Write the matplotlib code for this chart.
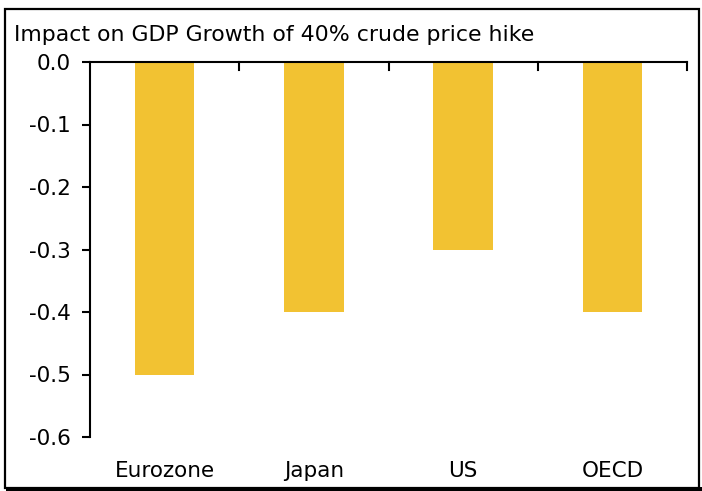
import matplotlib
matplotlib.use("Agg")
import matplotlib.pyplot as plt
from matplotlib.patches import Rectangle

categories = ["Eurozone", "Japan", "US", "OECD"]
values = [-0.5, -0.4, -0.3, -0.4]
yticks = [0.0, -0.1, -0.2, -0.3, -0.4, -0.5, -0.6]
title = "Impact on GDP Growth of 40% crude price hike"

plt.rcParams['font.family'] = ['DejaVu Sans']
fig = plt.figure(figsize=(7.02, 4.91), dpi=100)
ax = fig.add_axes([90/702, 1-437/491, (687-90)/702, (437-62)/491])

x = list(range(len(categories)))
ax.bar(x, values, width=0.4, color="#F2C232", zorder=2)
ax.set_xlim(-0.5, len(categories)-0.5)
ax.set_ylim(-0.6, 0.0)
ax.set_yticks(yticks)
ax.set_yticklabels([f"{v:.1f}" for v in yticks], fontsize=15.5)
ax.tick_params(axis='y', direction='out', length=6, width=1.5, pad=8)

for s in ["bottom", "right"]:
    ax.spines[s].set_visible(False)
ax.spines["left"].set_linewidth(1.5)
ax.spines["top"].set_linewidth(1.5)

ax.set_xticks(x)
ax.set_xticklabels(categories, fontsize=15.5)
ax.xaxis.set_ticks_position('bottom')
ax.tick_params(axis='x', length=0, pad=17)
for b in [0.5, 1.5, 2.5, 3.5]:
    ax.plot([b, b], [0, -0.013], color="black", lw=1.5, clip_on=False, zorder=3)

fig.text(14/702, 1-35/491, title, fontsize=15.8, ha="left", va="center")

fig.patches.append(Rectangle((5/702, 1-488/491), 694/702, 479/491,
                             transform=fig.transFigure, fill=False,
                             edgecolor="black", lw=1.6))
fig.patches.append(Rectangle((6/702, 1-491/491), 696/702, 4/491,
                             transform=fig.transFigure, facecolor="black", edgecolor="none"))
fig.savefig("out.png", dpi=100)
